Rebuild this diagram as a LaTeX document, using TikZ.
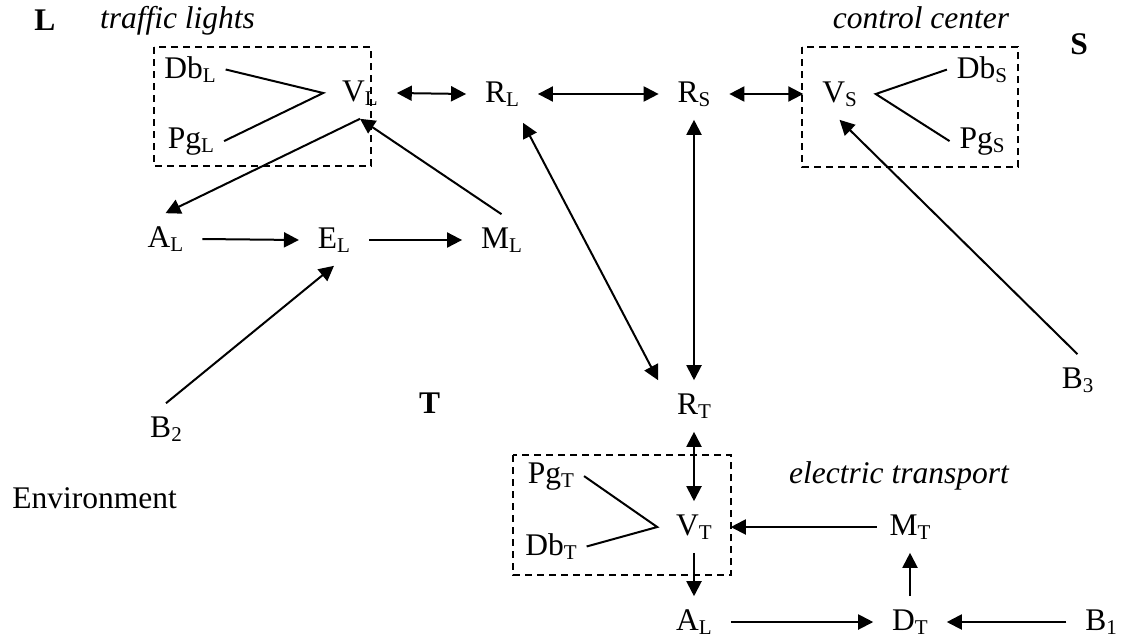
\documentclass[tikz,border=0pt]{standalone}
\usepackage{fontspec}
\setmainfont{Liberation Serif}
\usetikzlibrary{arrows.meta}
\newcommand\subx[1]{\raisebox{-2.4pt}{\fontsize{10.5}{10.5}\selectfont #1}}
\begin{document}
\begin{tikzpicture}[x=0.5pt,y=-0.5pt,
  every node/.style={font=\fontsize{15.75}{18}\selectfont},
  varnode/.style={anchor=base, inner xsep=9.5pt, inner ysep=6.5pt, text height=10.4pt, text depth=2.4pt, outer sep=0pt},
  subnode/.style={anchor=base, inner xsep=5pt, inner ysep=2pt, outer sep=0pt},
  lbl/.style={anchor=base, inner sep=0pt},
  boldlbl/.style={anchor=base, inner sep=0pt, font=\fontsize{15.75}{18}\selectfont\bfseries},
  itlbl/.style={anchor=base, inner sep=0pt, font=\fontsize{15.75}{18}\selectfont\itshape},
  conn/.style={line width=1pt},
  arr/.style={line width=1pt, -{Triangle[length=7.5pt,width=7.5pt]}},
  darr/.style={line width=1pt, {Triangle[length=7.5pt,width=7.5pt]}-{Triangle[length=7.5pt,width=7.5pt]}},
  dbox/.style={line width=0.8pt, dash pattern=on 3.5pt off 2.5pt}]
\useasboundingbox (0,0) rectangle (1122,638);

% titles
\node[boldlbl] (Lt) at (45,30) {L};
\node[itlbl] (tl) at (177.5,28) {traffic lights};
\node[itlbl] (cc) at (921,28) {control center};
\node[boldlbl] (St) at (1079,54) {S};
\node[boldlbl] (Tt) at (429.5,413) {T};
\node[lbl] (env) at (94.5,508) {Environment};
\node[itlbl] (et) at (899,483) {electric transport};

% main nodes
\node[varnode] (VL) at (360,101) {V\subx{L}};
\node[varnode] (RL) at (502,102) {R\subx{L}};
\node[varnode] (RS) at (694,102) {R\subx{S}};
\node[varnode] (VS) at (839.5,102) {V\subx{S}};
\node[varnode] (AL1) at (165.5,247) {A\subx{L}};
\node[varnode] (EL) at (334,248) {E\subx{L}};
\node[varnode] (ML) at (501.5,248) {M\subx{L}};
\node[varnode] (B2) at (166,437) {B\subx{2}};
\node[varnode] (B3) at (1077.5,388) {B\subx{3}};
\node[varnode] (RT) at (694,414) {R\subx{T}};
\node[varnode] (VT) at (694,535) {V\subx{T}};
\node[varnode] (MT) at (910,535) {M\subx{T}};
\node[varnode] (AL2) at (694,630) {A\subx{L}};
\node[varnode] (DT) at (910,630) {D\subx{T}};
\node[varnode] (B1) at (1101,630) {B\subx{1}};

% sub nodes
\node[subnode] (DbL) at (190,78) {Db\subx{L}};
\node[subnode] (PgL) at (191,148) {Pg\subx{L}};
\node[subnode] (DbS) at (982,78) {Db\subx{S}};
\node[subnode] (PgS) at (982,148) {Pg\subx{S}};
\node[subnode] (PgT) at (551,483) {Pg\subx{T}};
\node[subnode] (DbT) at (551,555) {Db\subx{T}};

% fork lines
\draw[conn] (DbL.east) -- (VL.west) -- (PgL.east);
\draw[conn] (DbS.west) -- (VS.east) -- (PgS.west);
\draw[conn] (PgT.east) -- (VT.west) -- (DbT.east);

% connectors
\draw[darr] (VL.east) -- (RL.west);
\draw[darr] (RL.east) -- (RS.west);
\draw[darr] (RS.east) -- (VS.west);
\draw[arr] (VL.south) -- (AL1.north);
\draw[arr] (ML.north) -- (VL.south);
\draw[arr] (AL1.east) -- (EL.west);
\draw[arr] (EL.east) -- (ML.west);
\draw[arr] (B2.north) -- (EL.south);
\draw[darr] ([shift={(21,3)}]RL.south) -- (RT.north west);
\draw[darr] (RS.south) -- (RT.north);
\draw[arr] (B3.north) -- (VS.south);
\draw[darr] (RT.south) -- (VT.north);
\draw[arr] (VT.south) -- (AL2.north);
\draw[arr] ([xshift=3pt]MT.west) -- (VT.east);
\draw[arr] (AL2.east) -- (DT.west);
\draw[arr] (DT.north) -- (MT.south);
\draw[arr] (B1.west) -- (DT.east);

% dashed group frames
\draw[dbox] (154,47) rectangle (371,166);
\draw[dbox] (802,47) rectangle (1018,167);
\draw[dbox] (513,455) rectangle (731,575);
\end{tikzpicture}
\end{document}
